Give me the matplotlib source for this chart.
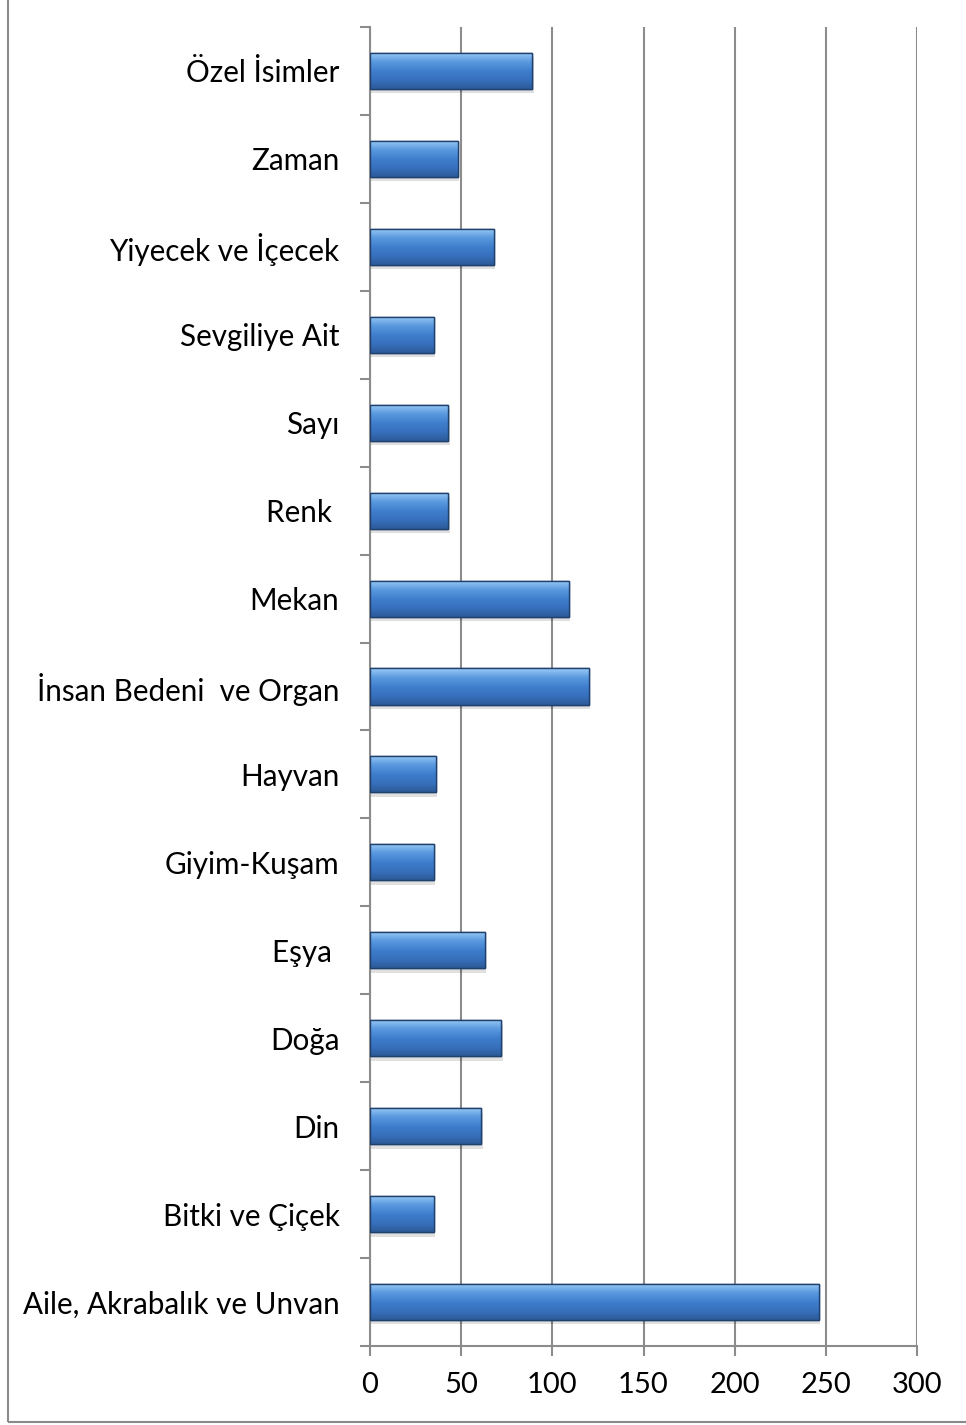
import numpy as np
import matplotlib
matplotlib.use("Agg")
import matplotlib.pyplot as plt
from matplotlib.patches import Rectangle
from matplotlib.colors import LinearSegmentedColormap

categories = ["Aile, Akrabalık ve Unvan", "Bitki ve Çiçek", "Din", "Doğa", "Eşya ",
              "Giyim-Kuşam", "Hayvan", "İnsan Bedeni  ve Organ", "Mekan", "Renk ",
              "Sayı", "Sevgiliye Ait", "Yiyecek ve İçecek", "Zaman", "Özel İsimler"]
values = [246, 35, 61, 72, 63, 35, 36, 120, 109, 43, 43, 35, 68, 48, 89]
xticks = [0, 50, 100, 150, 200, 250, 300]

plt.rcParams['font.family'] = ['Lato', 'DejaVu Sans']

fig = plt.figure(figsize=(9.66, 14.25), dpi=100)
ax = fig.add_axes([370/966, 1 - 1346/1425, (917 - 370)/966, (1346 - 27)/1425])

grid_c = "#8c8c8c"
y = np.arange(len(categories))
bh = 0.41
bars = ax.barh(y, values, height=bh, color="#3d7cc9", edgecolor="#20406e", linewidth=1.0, zorder=3)

cmap = LinearSegmentedColormap.from_list("bev", ["#2c5a98", "#3771bd", "#3f7fcd", "#5d9be0", "#9ccdf6"])
grad = np.linspace(0, 1, 256).reshape(-1, 1)
for b in bars:
    x0, y0 = b.get_x(), b.get_y()
    w, h = b.get_width(), b.get_height()
    ax.add_patch(Rectangle((x0 + 0.8, y0 - 0.05), w, h, facecolor="#000000", alpha=0.12,
                           edgecolor="none", zorder=2))
    im = ax.imshow(grad, extent=(x0, x0 + w, y0, y0 + h), origin="lower", cmap=cmap,
                   aspect="auto", zorder=3.5, interpolation="bicubic")
    im.set_clip_path(b)
    ax.add_patch(Rectangle((x0, y0), w, h, facecolor="none", edgecolor="#20406e",
                           linewidth=1.0, zorder=4))

ax.set_xlim(0, 300)
ax.set_ylim(-0.5, len(categories) - 0.5)
ax.set_xticks(xticks)
ax.set_xticklabels([str(t) for t in xticks], fontsize=21)
ax.set_yticks(y)
ax.set_yticklabels(categories, fontsize=21.3)
ax.set_yticks(np.arange(-0.5, len(categories), 1.0), minor=True)
ax.tick_params(axis="y", which="major", length=0, pad=22)
ax.tick_params(axis="y", which="minor", length=7, width=1.5, color=grid_c, direction="out")
ax.tick_params(axis="x", which="major", length=7, width=1.5, color=grid_c, direction="out", pad=12)

ax.grid(axis="x", color=grid_c, linewidth=1.5, zorder=0)
ax.set_axisbelow(True)
for s in ["top", "right"]:
    ax.spines[s].set_visible(False)
for s in ["left", "bottom"]:
    ax.spines[s].set_color(grid_c)
    ax.spines[s].set_linewidth(1.5)

fig.add_artist(Rectangle((8/966, 3/1425), 1.2, 1.2, transform=fig.transFigure,
                         facecolor="none", edgecolor="#8a8a8a", linewidth=1.5))

fig.savefig("out.png", dpi=100)
